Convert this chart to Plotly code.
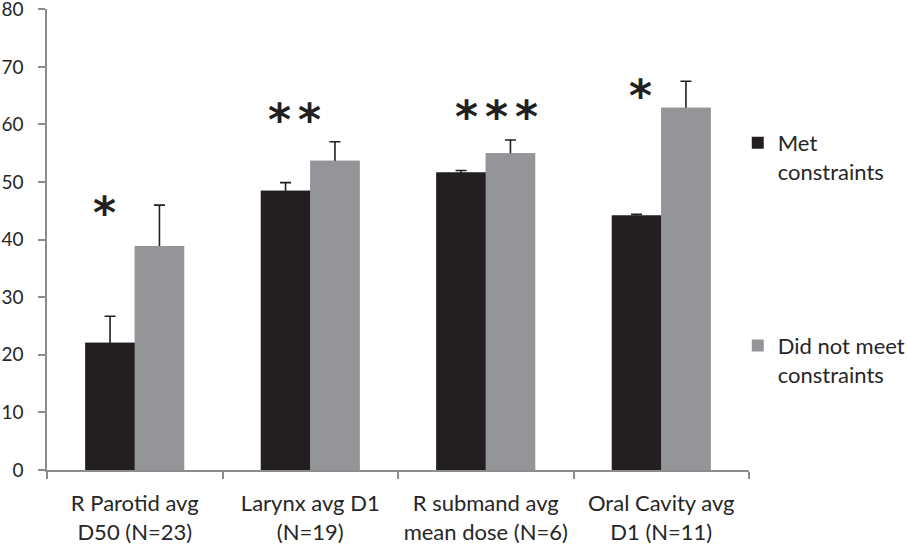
import plotly.graph_objects as go

# ---- data ----
categories = [
    "R Parotid avg<br>D50 (N=23)",
    "Larynx avg D1<br>(N=19)",
    "R submand avg<br>mean dose (N=6)",
    "Oral Cavity avg<br>D1 (N=11)",
]
met_values = [22.1, 48.5, 51.65, 44.2]
met_err = [4.6, 1.4, 0.35, 0.2]
not_met_values = [38.9, 53.7, 55.0, 62.9]
not_met_err = [7.1, 3.3, 2.3, 4.6]
star_counts = [1, 2, 3, 1]
star_y = [45.5, 61.8, 62.2, 65.9]
y_ticks = [0, 10, 20, 30, 40, 50, 60, 70, 80]
series_names = ["Met<br>constraints", "Did not meet<br>constraints"]

# ---- styles ----
BLACK = "#231F20"
GREY = "#939598"
AXIS = "#8C8C8C"
TEXT = "#262626"
FONT = "Lato"
star_shift_px = [-30, -16, 11, -21]
star_pitch_px = 30

fig = go.Figure()

err_style = dict(type="data", symmetric=True, color=BLACK, thickness=1.6, width=5.5)

# bottom layer: bars with (symmetric) error bars
fig.add_trace(go.Bar(x=categories, y=met_values, marker=dict(color=BLACK, line=dict(width=0)),
                     error_y=dict(array=met_err, **err_style), showlegend=False,
                     hoverinfo="skip", xaxis="x", yaxis="y"))
fig.add_trace(go.Bar(x=categories, y=not_met_values, marker=dict(color=GREY, line=dict(width=0)),
                     error_y=dict(array=not_met_err, **err_style), showlegend=False,
                     hoverinfo="skip", xaxis="x", yaxis="y"))
# top layer: same bars without error bars (hides the lower half of the whiskers)
fig.add_trace(go.Bar(x=categories, y=met_values, marker=dict(color=BLACK, line=dict(width=0)),
                     name=series_names[0], legend="legend",
                     xaxis="x2", yaxis="y"))
fig.add_trace(go.Bar(x=categories, y=not_met_values, marker=dict(color=GREY, line=dict(width=0)),
                     name=series_names[1], legend="legend2",
                     xaxis="x2", yaxis="y"))

annotations = []
for i, n in enumerate(star_counts):
    for k in range(n):
        annotations.append(dict(
            x=categories[i], y=star_y[i], xref="x", yref="y",
            text="*", showarrow=False,
            xshift=star_shift_px[i] + (k - (n - 1) / 2) * star_pitch_px,
            yshift=-5,
            font=dict(family="DejaVu Sans", size=44, color=BLACK, weight="bold"),
            xanchor="center", yanchor="middle",
        ))

fig.update_layout(
    width=908, height=544,
    margin=dict(l=47, r=159, t=9, b=74, autoexpand=False),
    paper_bgcolor="white", plot_bgcolor="white",
    barmode="group", bargap=0.437, bargroupgap=0,
    font=dict(family=FONT, size=22, color=TEXT),
    xaxis=dict(type="category", showline=True, linecolor=AXIS, linewidth=1.5, automargin=False,
               ticks="outside", tickson="boundaries", ticklen=7, tickcolor=AXIS, tickwidth=1.5,
               ticklabelstandoff=13,
               showgrid=False, zeroline=False, tickfont=dict(family=FONT, size=22, color=TEXT)),
    xaxis2=dict(type="category", overlaying="x", matches="x", visible=False),
    yaxis=dict(range=[0, 80.05], tickmode="array", tickvals=y_ticks,
               showline=True, linecolor=AXIS, linewidth=1.5,
               automargin=False, ticklabeloverflow="allow",
               ticks="outside", ticklen=7, tickcolor=AXIS, tickwidth=1.5,
               showgrid=False, zeroline=False, ticklabelstandoff=11,
               tickfont=dict(family=FONT, size=19, color=TEXT)),
    legend=dict(x=0.984, y=0.755, xanchor="left", yanchor="top", valign="top",
                bgcolor="rgba(0,0,0,0)", font=dict(family=FONT, size=22, color=TEXT)),
    legend2=dict(x=0.984, y=0.315, xanchor="left", yanchor="top", valign="top",
                 bgcolor="rgba(0,0,0,0)", font=dict(family=FONT, size=22, color=TEXT)),
    annotations=annotations,
)

fig.write_html("out.html", config={"displayModeBar": False},
               post_script="document.body.style.margin='0';")
